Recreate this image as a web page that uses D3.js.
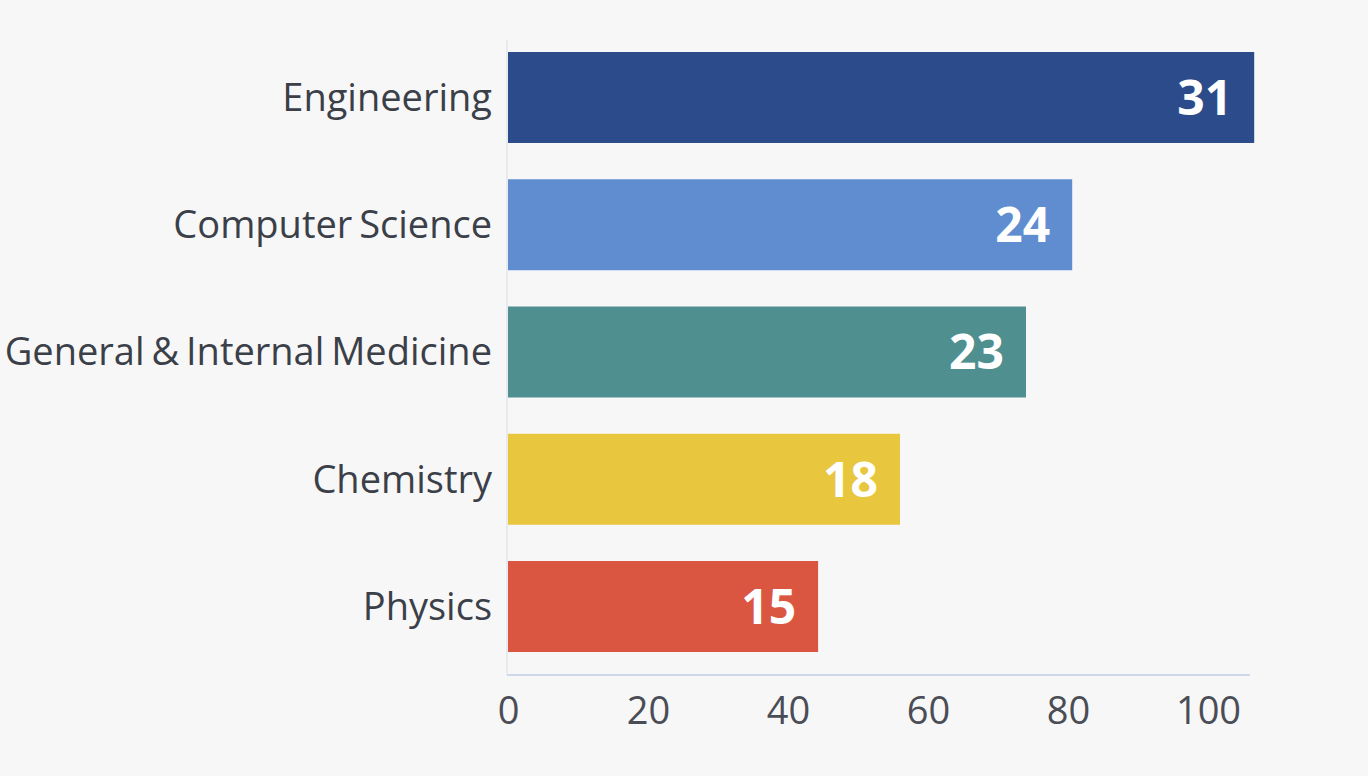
<!DOCTYPE html>
<html>
<head>
<meta charset="utf-8">
<script src="https://cdn.jsdelivr.net/npm/d3@7"></script>
<style>
  html, body { margin: 0; padding: 0; background: #f7f7f8; }
  svg { display: block; }
</style>
</head>
<body>
<svg id="chart" width="1368" height="776"></svg>
<script>
// data
var categories = ["Engineering", "Computer Science", "General & Internal Medicine", "Chemistry", "Physics"];
var barValues = [106.6, 80.6, 74, 56, 44.3];   // bar length on the 0-100 axis
var counts = [31, 24, 23, 18, 15];               // number printed in each bar
var colors = ["#2c4b8a", "#5f8dd0", "#4f8f90", "#e8c73f", "#db5640"];
var tickValues = [0, 20, 40, 60, 80, 100];

var svg = d3.select("#chart");

var x = d3.scaleLinear()
  .domain([0, 100])
  .range([508, 1208]);

var y = d3.scaleBand()
  .domain(categories)
  .range([52, 652])
  .paddingInner(0.285)
  .paddingOuter(0);

// faint vertical baseline
svg.append("line")
  .attr("x1", x(0) - 1).attr("x2", x(0) - 1)
  .attr("y1", 40).attr("y2", 675)
  .style("stroke", "#e2e6ec")
  .style("stroke-width", 1.5);

// bottom axis line
svg.append("line")
  .attr("x1", x(0) - 1).attr("x2", 1250)
  .attr("y1", 675).attr("y2", 675)
  .style("stroke", "#bccfe6")
  .style("stroke-width", 1.5);

var rows = categories.map(function(c, i){
  return {name: c, value: barValues[i], count: counts[i], color: colors[i]};
});

svg.selectAll(".bar").data(rows)
  .enter().append("rect")
  .attr("class", "bar")
  .attr("x", x(0))
  .attr("y", function(d){ return y(d.name); })
  .attr("width", function(d){ return x(d.value) - x(0); })
  .attr("height", y.bandwidth())
  .style("fill", function(d){ return d.color; });

svg.selectAll(".catLabel").data(rows)
  .enter().append("text")
  .attr("class", "catLabel")
  .attr("x", 492)
  .attr("y", function(d){ return y(d.name) + y.bandwidth()/2; })
  .attr("dy", "0.35em")
  .attr("font-family", "'Open Sans', sans-serif")
  .attr("font-size", "38px")
  .style("word-spacing", "-3px")
  .style("text-anchor", "end")
  .style("fill", "#3b3f48")
  .text(function(d){ return d.name; });

svg.selectAll(".valLabel").data(rows)
  .enter().append("text")
  .attr("class", "valLabel")
  .attr("x", function(d){ return x(d.value) - 22; })
  .attr("y", function(d){ return y(d.name) + y.bandwidth()/2; })
  .attr("dy", "0.36em")
  .attr("font-family", "'Open Sans', sans-serif")
  .attr("font-weight", "bold")
  .attr("font-size", "48px")
  .style("text-anchor", "end")
  .style("fill", "#ffffff")
  .text(function(d){ return d.count; });

// tick labels
var xAxis = d3.axisBottom(x)
  .tickValues(tickValues)
  .tickSize(0)
  .tickPadding(0);

var gx = svg.append("g")
  .attr("transform", "translate(0,690)")
  .call(xAxis);
gx.select(".domain").remove();
gx.selectAll("text")
  .attr("dy", "0.9em")
  .attr("font-family", "'Open Sans', sans-serif")
  .attr("font-size", "38px")
  .style("fill", "#4a4d55");
</script>
</body>
</html>
